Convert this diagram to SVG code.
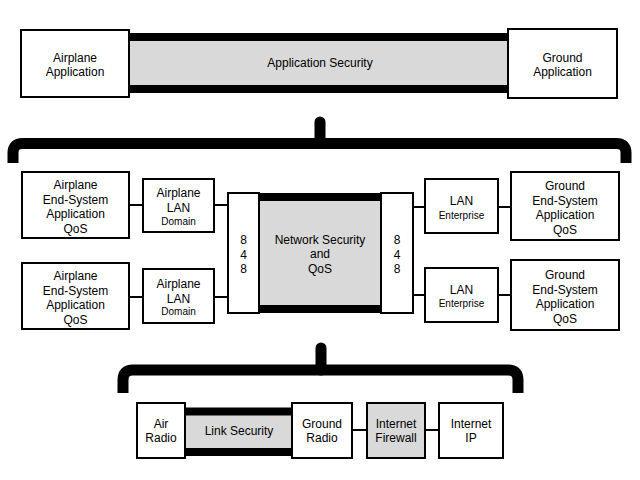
<svg xmlns="http://www.w3.org/2000/svg" width="640" height="480" viewBox="0 0 640 480">
<style>
.box{fill:#fff;stroke:#000;stroke-width:2}
.gbox{fill:#d9d9d9;stroke:#000;stroke-width:2}
.gray{fill:#d9d9d9;stroke:none}
.band{stroke:#000;stroke-width:8;fill:none}
.br{fill:none;stroke:#000;stroke-width:11}
.knob{fill:none;stroke:#000;stroke-width:11;stroke-linecap:round}
.con{stroke:#000;stroke-width:2;fill:none}
text{font-family:"Liberation Sans",Arial,sans-serif;font-size:12px;fill:#000;text-anchor:middle}
.sm{font-size:10px}
</style>
<rect width="640" height="480" fill="#fff"/>
<g id="connectors">
<line class="con" x1="129" y1="205" x2="143" y2="205"/>
<line class="con" x1="214" y1="205" x2="228" y2="205"/>
<line class="con" x1="129" y1="297" x2="143" y2="297"/>
<line class="con" x1="214" y1="297" x2="228" y2="297"/>
<line class="con" x1="413" y1="207" x2="425" y2="207"/>
<line class="con" x1="498" y1="207" x2="511" y2="207"/>
<line class="con" x1="413" y1="295" x2="425" y2="295"/>
<line class="con" x1="498" y1="295" x2="511" y2="295"/>
<line class="con" x1="352" y1="430" x2="367" y2="430"/>
<line class="con" x1="425" y1="430" x2="439" y2="430"/>
</g>
<g id="bracket1">
<path class="br" d="M13,163 V153 Q13,143.5 22.5,143.5 H616.5 Q626,143.5 626,153 V163"/>
<path class="knob" d="M320,143 V122"/>
</g>
<g id="bracket2">
<path class="br" d="M123,393 V380 Q123,370 133,370 H508 Q518,370 518,380 V393"/>
<path class="knob" d="M321,370 V348"/>
</g>
<g id="app-security">
<rect class="gray" x="129" y="37" width="380" height="52"/>
<line class="band" x1="129" y1="37" x2="509" y2="37"/>
<line class="band" x1="129" y1="89" x2="509" y2="89"/>
<text x="320" y="67">Application Security</text>
</g>
<g id="airplane-app">
<rect class="box" x="21" y="30" width="108" height="67"/>
<text x="75" y="62">Airplane</text>
<text x="75" y="76">Application</text>
</g>
<g id="ground-app">
<rect class="box" x="508" y="29" width="109" height="69"/>
<text x="562.5" y="62">Ground</text>
<text x="562.5" y="76">Application</text>
</g>
<g id="net-security">
<rect class="gray" x="259" y="197" width="122" height="112"/>
<line class="band" x1="259" y1="197" x2="381" y2="197"/>
<line class="band" x1="259" y1="309" x2="381" y2="309"/>
<text x="320" y="244">Network Security</text>
<text x="320" y="258">and</text>
<text x="320" y="273">QoS</text>
</g>
<g id="left-848">
<rect class="box" x="228" y="193" width="31" height="120"/>
<text x="243.5" y="244">8</text>
<text x="243.5" y="259">4</text>
<text x="243.5" y="273">8</text>
</g>
<g id="right-848">
<rect class="box" x="381" y="193" width="32" height="120"/>
<text x="397" y="244">8</text>
<text x="397" y="259">4</text>
<text x="397" y="273">8</text>
</g>
<g id="airplane-es-1">
<rect class="box" x="22" y="172" width="107" height="66"/>
<text x="75.5" y="189">Airplane</text>
<text x="75.5" y="203.5">End-System</text>
<text x="75.5" y="218">Application</text>
<text x="75.5" y="232.5">QoS</text>
</g>
<g id="airplane-es-2">
<rect class="box" x="22" y="263" width="107" height="66"/>
<text x="75.5" y="280">Airplane</text>
<text x="75.5" y="294.5">End-System</text>
<text x="75.5" y="309">Application</text>
<text x="75.5" y="323.5">QoS</text>
</g>
<g id="airplane-lan-1">
<rect class="box" x="143" y="179" width="71" height="53"/>
<text x="178.5" y="197">Airplane</text>
<text x="178.5" y="212">LAN</text>
<text class="sm" x="178.5" y="224.5">Domain</text>
</g>
<g id="airplane-lan-2">
<rect class="box" x="143" y="269" width="71" height="54"/>
<text x="178.5" y="287.5">Airplane</text>
<text x="178.5" y="302.5">LAN</text>
<text class="sm" x="178.5" y="315">Domain</text>
</g>
<g id="lan-ent-1">
<rect class="box" x="425" y="179" width="73" height="54"/>
<text x="461.5" y="205">LAN</text>
<text class="sm" x="461.5" y="218.5">Enterprise</text>
</g>
<g id="lan-ent-2">
<rect class="box" x="425" y="268" width="73" height="54"/>
<text x="461.5" y="294">LAN</text>
<text class="sm" x="461.5" y="307">Enterprise</text>
</g>
<g id="ground-es-1">
<rect class="box" x="511" y="172" width="108" height="68"/>
<text x="565" y="190">Ground</text>
<text x="565" y="204.5">End-System</text>
<text x="565" y="219">Application</text>
<text x="565" y="233.5">QoS</text>
</g>
<g id="ground-es-2">
<rect class="box" x="511" y="260" width="108" height="70"/>
<text x="565" y="279">Ground</text>
<text x="565" y="293.5">End-System</text>
<text x="565" y="308">Application</text>
<text x="565" y="322.5">QoS</text>
</g>
<g id="link-security">
<rect class="gray" x="185" y="411.5" width="108" height="41"/>
<line class="band" x1="185" y1="411.5" x2="293" y2="411.5"/>
<line class="band" x1="185" y1="452" x2="293" y2="452"/>
<text x="239" y="435">Link Security</text>
</g>
<g id="air-radio">
<rect class="box" x="137" y="403" width="48" height="55"/>
<text x="161" y="428">Air</text>
<text x="161" y="442">Radio</text>
</g>
<g id="ground-radio">
<rect class="box" x="292" y="403" width="60" height="55"/>
<text x="322" y="428">Ground</text>
<text x="322" y="442">Radio</text>
</g>
<g id="internet-firewall">
<rect class="gbox" x="367" y="403" width="58" height="55"/>
<text x="396" y="428" fill="#333">Internet</text>
<text x="396" y="442" fill="#333">Firewall</text>
</g>
<g id="internet-ip">
<rect class="box" x="439" y="403" width="64" height="55"/>
<text x="471" y="428">Internet</text>
<text x="471" y="442">IP</text>
</g>
</svg>
